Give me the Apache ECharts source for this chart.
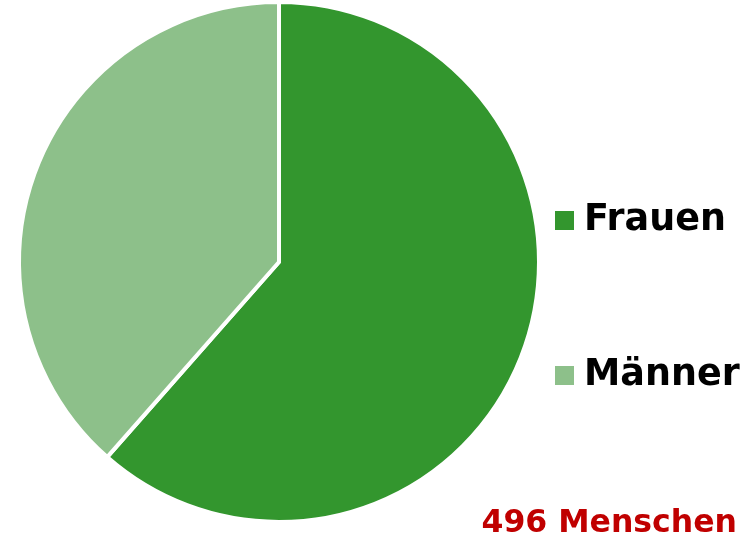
<!DOCTYPE html>
<html>
<head>
<meta charset="utf-8">
<script src="https://cdn.jsdelivr.net/npm/echarts@6/dist/echarts.min.js"></script>
<style>
html, body { margin: 0; padding: 0; background: #fff; }
#chart { width: 756px; height: 541px; }
</style>
</head>
<body>
<div id="chart"></div>
<script>
var categories = ['Frauen', 'Männer'];
var values = [305, 191];
var colors = ['#33962e', '#8dc08a'];
var totalLabel = '496 Menschen';

var data = categories.map(function (name, i) {
	return { name: name, value: values[i], itemStyle: { color: colors[i] } };
});

var option = {
	backgroundColor: '#fff',
	title: {
		text: totalLabel,
		right: 19,
		top: 508,
		padding: 0,
		textStyle: {
			fontFamily: 'DejaVu Sans',
			fontWeight: 'bold',
			fontSize: 31.5,
			color: '#c00000'
		}
	},
	legend: {
		orient: 'vertical',
		left: 553,
		top: 202,
		itemWidth: 21,
		itemHeight: 21,
		itemGap: 118,
		icon: 'rect',
		padding: 0,
		data: categories,
		textStyle: {
			fontFamily: 'DejaVu Sans',
			fontWeight: 'bold',
			fontSize: 36.5,
			lineHeight: 36,
			color: '#000',
			padding: [0, 0, 0, 4]
		}
	},
	series: [{
		type: 'pie',
		center: [279, 262],
		radius: [0, 260],
		startAngle: 90,
		clockwise: true,
		label: { show: false },
		labelLine: { show: false },
		itemStyle: { borderColor: '#fff', borderWidth: 4 },
		emphasis: { disabled: true },
		animation: false,
		data: data
	}]
};

var chart = echarts.init(document.getElementById('chart'));
chart.setOption(option);
</script>
</body>
</html>
